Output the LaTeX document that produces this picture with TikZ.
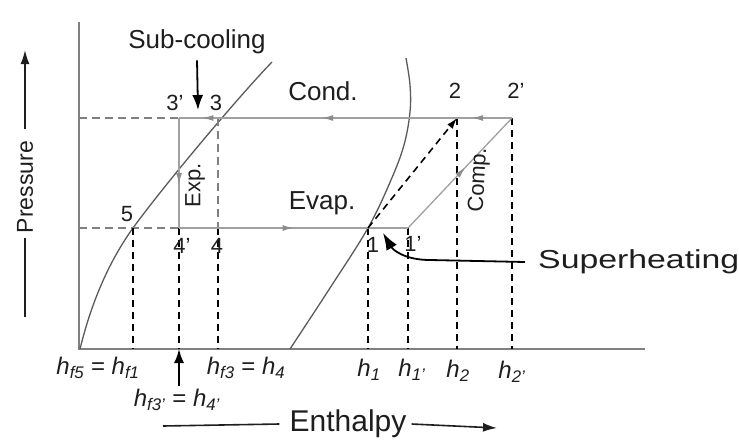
\documentclass[tikz,border=0pt]{standalone}
\usepackage{fontspec}
\setmainfont{Liberation Sans}
\usetikzlibrary{arrows.meta,decorations.markings}
\definecolor{cycgray}{HTML}{A0A0A0}
\definecolor{arrgray}{HTML}{8C8C8C}
\definecolor{curvegray}{HTML}{5A5A5A}
\definecolor{axisgray}{HTML}{808080}
\definecolor{txt}{HTML}{1E1E1E}
\newcommand{\hlab}[1]{\textit{h}\textsubscript{\textit{#1}}}
\tikzset{
  cyc/.style={draw=cycgray, line width=1.3pt},
  marr/.style={postaction={decorate, decoration={markings,
      mark=at position #1 with {\arrow[arrgray]{Latex[length=11pt,width=6pt]}}}}},
  dsh/.style={draw=black, line width=1.9pt, dash pattern=on 7pt off 5pt},
  ldsh/.style={draw=axisgray, line width=1.2pt, dash pattern=on 8pt off 5pt},
  sat/.style={draw=curvegray, line width=1.3pt},
  ax/.style={draw=axisgray, line width=1.2pt},
  lab/.style={font=\fontsize{26}{28}\selectfont, text=txt, inner sep=0pt},
  pt/.style={font=\fontsize{22}{24}\selectfont, text=txt, inner sep=0pt},
  hl/.style={font=\fontsize{24}{26}\selectfont, text=txt, inner sep=0pt},
  blk/.style={draw=black, line width=1.8pt},
}
\begin{document}
\begin{tikzpicture}[x=1pt,y=-1pt]
\useasboundingbox (0,0) rectangle (739,442);
% key coordinates
\coordinate (o) at (79,349);
\coordinate (ytop) at (79,22);
\coordinate (xend) at (645,349);
\coordinate (hp) at (79,118);
\coordinate (lp) at (79,228);
\coordinate (p3p) at (179,118);
\coordinate (p3) at (218,118);
\coordinate (p2) at (457,118);
\coordinate (p2p) at (512,118);
\coordinate (p5) at (133,228);
\coordinate (p4p) at (179,228);
\coordinate (p4) at (218,228);
\coordinate (p1) at (368,228);
\coordinate (p1p) at (408,228);
\coordinate (f5) at (133,349);
\coordinate (f4p) at (179,349);
\coordinate (f3) at (218,349);
\coordinate (f1) at (368,349);
\coordinate (f1p) at (408,349);
\coordinate (f2) at (457,349);
\coordinate (f2p) at (512,349);
% axes
\draw[ax] (ytop) -- (o) -- (xend);
% saturation curves
\draw[sat] (80,349) .. controls (92,300) and (110,260) .. (p5) .. controls (165,184) and (240,95) .. (272,62);
\draw[sat] plot[smooth, tension=0.6] coordinates {(290,349) (330,288) (368,228) (391,180) (404,145) (410,112) (410,85) (406,58)};
% dashed guide lines
\draw[ldsh] (hp) -- (p3p);
\draw[ldsh] (lp) -- (p4p);
\draw[ldsh] (p3) -- (p4);
\draw[dsh] (p5) -- (f5);
\draw[dsh] (p4p) -- (f4p);
\draw[dsh] (p4) -- (f3);
\draw[dsh] (p1) -- (f1);
\draw[dsh] (p1p) -- (f1p);
\draw[dsh] (p2) -- (f2);
\draw[dsh] (p2p) -- (f2p);
% cycle
\draw[cyc, marr=0.12, marr=0.57, marr=0.93] (p2p) -- (p3p);
\draw[cyc, marr=0.6] (p3p) -- (p4p);
\draw[cyc, marr=0.5] (p4p) -- (p1p);
\draw[cyc, marr=0.55] (p1p) -- (p2p);
\draw[dsh, line width=1.6pt, -{Latex[length=11pt,width=7pt]}] (p1) -- (p2);
% point labels
\node[pt] (l3p) at (175,103) {3’};
\node[pt] (l3) at (216,103) {3};
\node[pt] (l2) at (455,91) {2};
\node[pt] (l2p) at (516,91) {2’};
\node[pt] (l5) at (127,214) {5};
\node[pt] (l4p) at (182,246) {4’};
\node[pt] (l4) at (217,246) {4};
\node[pt] (l1) at (373,245) {1};
\node[pt] (l1p) at (413,244) {1’};
% process labels
\node[lab] (cond) at (323,91) {Cond.};
\node[lab] (evap) at (322,203) {Evap.};
\node[pt, rotate=90] (exp) at (195,185) {Exp.};
\node[pt, rotate=87] (comp) at (479,180) {Comp.};
% sub-cooling
\node[lab] (sc) at (197,42) {Sub-cooling};
\coordinate (sctip) at (198,110);
\draw[blk, -{Latex[length=15pt,width=11pt]}] ([yshift=-6pt]sc.south) -- (sctip);
% superheating
\node[lab, anchor=west] (sh) at (538,262) {\scalebox{1.3}[1]{Superheating}};
\coordinate (shtip) at (383,233);
\draw[blk, -{Latex[length=17pt,width=12pt]}] ([xshift=-13pt]sh.west) -- (430,260) .. controls (405,260) and (393,250) .. (shtip);
% pressure axis label
\node[font=\fontsize{23}{25}\selectfont, text=txt, inner sep=0pt, rotate=90] (pr) at (25,187) {Pressure};
\coordinate (prtop) at (25,50);
\coordinate (prbot) at (25,317);
\draw[line width=1.6pt, draw=txt, -{Latex[length=14pt,width=9pt]}] ([yshift=12pt]pr.east) -- (prtop);
\draw[line width=1.6pt, draw=txt] ([yshift=-5pt]pr.west) -- (prbot);
% enthalpy axis label
\node[font=\fontsize{30}{32}\selectfont, text=txt, inner sep=0pt] (en) at (348,424) {Enthalpy};
\coordinate (enl) at (163,426);
\coordinate (enr) at (497,428);
\draw[line width=1.6pt, draw=txt] (enl) -- ([xshift=-10pt]en.west);
\draw[line width=1.6pt, draw=txt, -{Latex[length=14pt,width=9pt]}] ([xshift=5pt]en.east) -- (enr);
% enthalpy value labels
\node[hl] (hA) at (98,368) {\hlab{f5} = \hlab{f1}};
\node[hl] (hB) at (246,368) {\hlab{f3} = \hlab{4}};
\node[hl] (hC) at (177,400) {\hlab{f3’} = \hlab{4’}};
\draw[blk, -{Latex[length=14pt,width=10pt]}] ([yshift=3pt]hC.north -| f4p) -- (f4p);
\node[hl] (h1) at (369,370) {\hlab{1}};
\node[hl] (h1p) at (412,370) {\hlab{1’}};
\node[hl] (h2) at (458,371) {\hlab{2}};
\node[hl] (h2p) at (512,372) {\hlab{2’}};
\end{tikzpicture}
\end{document}
